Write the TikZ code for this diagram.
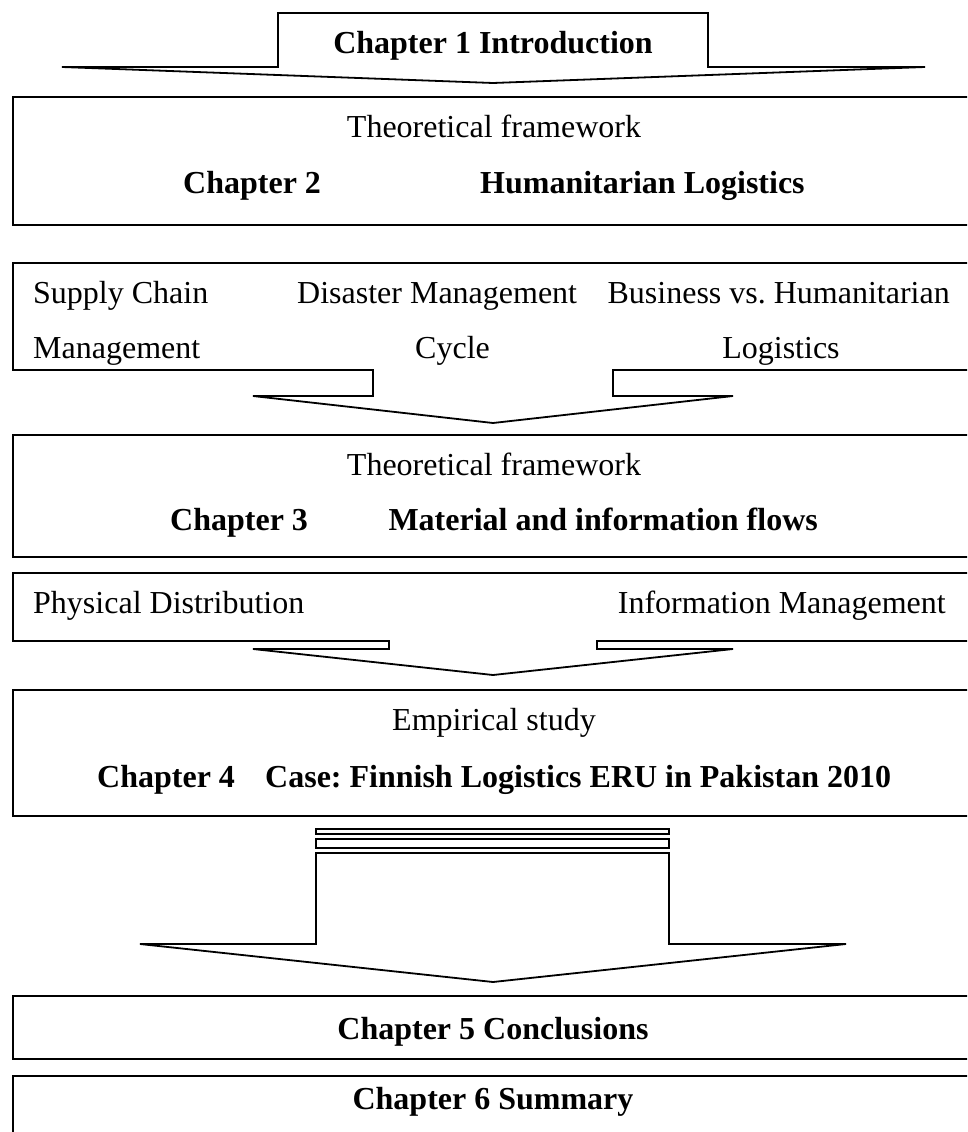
\documentclass[tikz,border=0pt]{standalone}
\usepackage{fontspec}
\setmainfont{Liberation Serif}
\frenchspacing
\begin{document}
\begin{tikzpicture}[x=1pt,y=-1pt,
  outline/.style={draw=black,line width=1.8pt,line join=miter},
  txt/.style={inner sep=0pt,anchor=base,font=\fontsize{32}{38}\selectfont},
  btxt/.style={txt,font=\fontsize{32}{38}\selectfont\bfseries}]
\useasboundingbox (0,0) rectangle (967,1132);
\clip (0,0) rectangle (967,1132);

% Chapter 1 arrow
\draw[outline] (278,13) -- (708,13) -- (708,67) -- (925,67) -- (493,83)
  -- (62,67) -- (278,67) -- cycle;
\node[btxt] (c1) at (493,54) {Chapter 1 Introduction};

% Chapter 2 box
\draw[outline] (13,97) rectangle (973,225);
\node[txt] (tf2) at (494,137) {Theoretical framework};
\node[btxt,anchor=base west] (c2) at (183,193) {Chapter 2};
\node[btxt,anchor=base west] (hl) at (480,193) {Humanitarian Logistics};

% Topic box with arrow
\draw[outline] (13,263) -- (973,263) -- (973,370) -- (613,370) -- (613,396)
  -- (733,396) -- (493,423) -- (253,396) -- (373,396) -- (373,370)
  -- (13,370) -- cycle;
\node[txt,anchor=base west] (scm1) at (33,303) {Supply Chain};
\node[txt,anchor=base west] (scm2) at (33,358) {Management};
\node[txt,anchor=base west] (dmc1) at (297,303) {Disaster Management};
\node[txt,anchor=base west] (dmc2) at (415,358) {Cycle};
\node[txt,anchor=base east] (bvh1) at (950,303) {Business vs. Humanitarian};
\node[txt] (bvh2) at (781,358) {Logistics};

% Chapter 3 box
\draw[outline] (13,435) rectangle (973,557);
\node[txt] (tf3) at (494,475) {Theoretical framework};
\node[btxt,anchor=base west] (c3) at (170,530) {Chapter 3};
\node[btxt,anchor=base east] (mif) at (818,530) {Material and information flows};

% Flow box with arrow
\draw[outline] (13,573) -- (973,573) -- (973,641) -- (597,641) -- (597,649)
  -- (733,649) -- (493,675) -- (253,649) -- (389,649) -- (389,641)
  -- (13,641) -- cycle;
\node[txt,anchor=base west] (pd) at (33,613) {Physical Distribution};
\node[txt,anchor=base east] (im) at (946,613) {Information Management};

% Chapter 4 box
\draw[outline] (13,690) rectangle (973,816);
\node[txt] (es) at (494,730) {Empirical study};
\node[btxt,anchor=base west] (c4) at (97,787) {Chapter 4};
\node[btxt,anchor=base west] (case) at (265,787) {Case: Finnish Logistics ERU in Pakistan 2010};

% Broad arrow with stacked bars
\draw[outline] (316,829) rectangle (669,834);
\draw[outline] (316,839) rectangle (669,848);
\draw[outline] (316,853) -- (669,853) -- (669,944) -- (846,944) -- (493,982)
  -- (140,944) -- (316,944) -- cycle;

% Chapter 5 and 6 boxes
\draw[outline] (13,996) rectangle (973,1059);
\node[btxt] (c5) at (493,1039) {Chapter 5 Conclusions};
\draw[outline] (13,1076) rectangle (973,1160);
\node[btxt] (c6) at (493,1109) {Chapter 6 Summary};
\end{tikzpicture}
\end{document}
